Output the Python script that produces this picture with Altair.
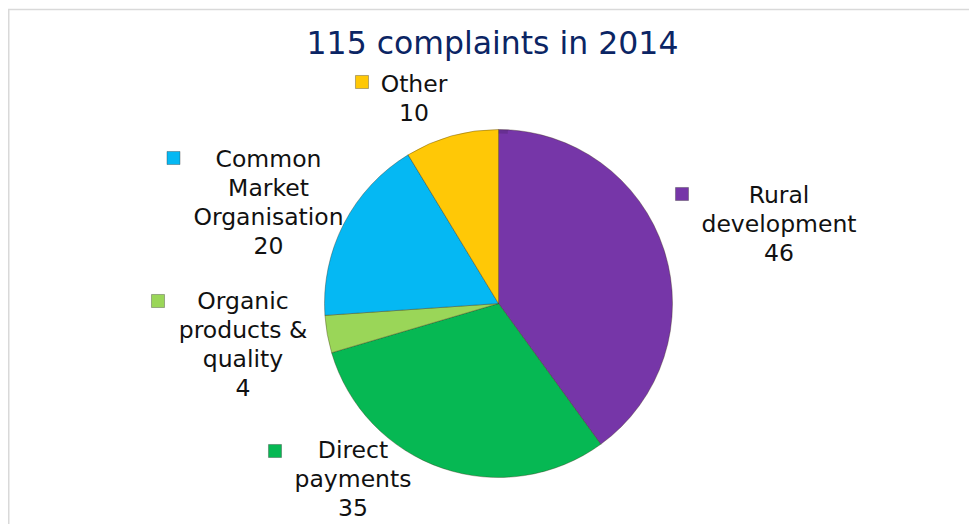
import altair as alt
import pandas as pd

# ---- data ----
categories = ["Rural development", "Direct payments", "Organic products & quality",
              "Common Market Organisation", "Other"]
values = [46, 35, 4, 20, 10]
label_lines = [["Rural", "development"], ["Direct", "payments"],
               ["Organic", "products &", "quality"],
               ["Common", "Market", "Organisation"], ["Other"]]
title_text = "115 complaints in 2014"

# ---- styles / layout ----
colors = ["#7636A8", "#06B853", "#9AD658", "#05B8F3", "#FFC806"]
W, H = 961, 516
CX, CY, R = 490.5, 295.5, 174
# label block layout (center x, first baseline y) and legend-key position
lab_x = [771, 345, 235, 260.5, 406]
lab_y = [195, 450, 301, 159, 84]
key_x = [674, 267, 150, 165.5, 354]
key_y = [186, 443, 293, 150, 74]

df = pd.DataFrame({
    "category": categories,
    "value": values,
    "idx": list(range(len(categories))),
    "label": [lines + [str(v)] for lines, v in zip(label_lines, values)],
    "lx": lab_x, "ly": lab_y, "kx": key_x, "ky": key_y,
})

color = alt.Color("category:N", scale=alt.Scale(domain=categories, range=colors), legend=None)

base = alt.Chart(df)

pie = base.mark_arc(outerRadius=R, stroke="#3a2a10", strokeOpacity=0.35, strokeWidth=1).encode(
    theta=alt.Theta("value:Q", stack=True),
    order=alt.Order("idx:Q"),
    color=color,
    x=alt.value(CX), y=alt.value(CY),
)

rim = alt.Chart(pd.DataFrame({"v": [1]})).mark_arc(
    outerRadius=R, innerRadius=R - 4, color="#000000", opacity=0.12,
).encode(theta=alt.Theta("v:Q"), x=alt.value(CX), y=alt.value(CY))

labels = base.mark_text(font="DejaVu Sans", fontSize=23.5, align="center",
                        baseline="alphabetic", lineHeight=29, color="#111111").encode(
    x=alt.X("lx:Q", scale=None), y=alt.Y("ly:Q", scale=None), text="label",
)

keys = base.mark_square(size=170, stroke="#333333", strokeOpacity=0.45, strokeWidth=0.8,
                        opacity=1).encode(
    x=alt.X("kx:Q", scale=None), y=alt.Y("ky:Q", scale=None), color=color,
)

title = alt.Chart(pd.DataFrame({"t": [title_text]})).mark_text(
    font="DejaVu Sans", fontSize=31.5, color="#0B2564", align="center", baseline="alphabetic"
).encode(x=alt.value(484.5), y=alt.value(46), text="t:N")

frame_top = alt.Chart(pd.DataFrame({"v": [1]})).mark_rule(color="#D9D9D9", strokeWidth=1.5).encode(
    x=alt.value(0), x2=alt.value(W), y=alt.value(1.5))
frame_left = alt.Chart(pd.DataFrame({"v": [1]})).mark_rule(color="#D9D9D9", strokeWidth=1.5).encode(
    x=alt.value(0.75), y=alt.value(1.5), y2=alt.value(H))

chart = alt.layer(frame_top, frame_left, pie, rim, keys, labels, title).properties(
    width=W, height=H, autosize=alt.AutoSizeParams(type="none"), padding=0,
    background="white",
).configure_view(stroke=None)

chart.save("out.html", embed_options={"renderer": "svg", "actions": False})
